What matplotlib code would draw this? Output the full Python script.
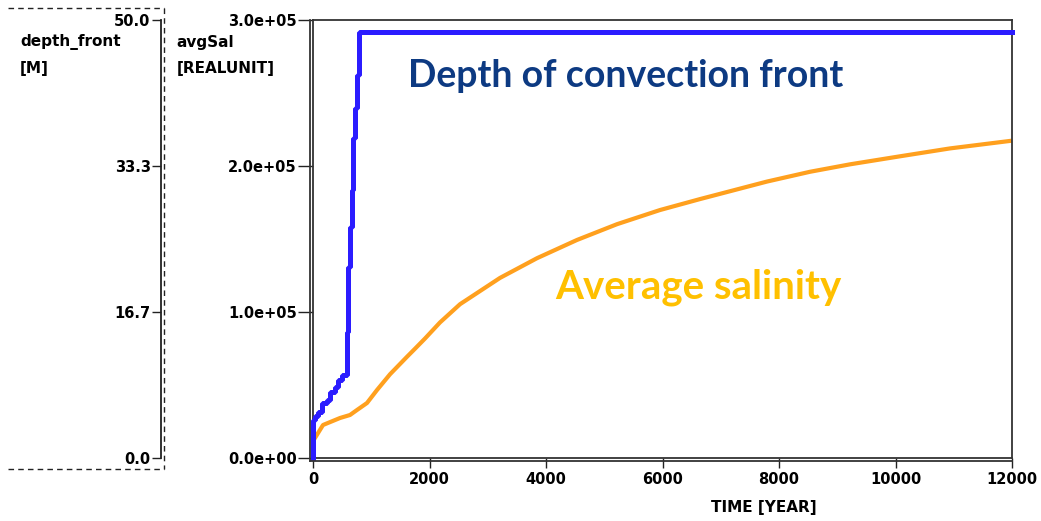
import matplotlib
matplotlib.use("Agg")
import matplotlib.pyplot as plt
from matplotlib.lines import Line2D
import numpy as np

# convection front depth [M], stepped output from the model
front_time = [0, 0, 5, 34, 91, 149, 235, 292, 378, 434, 493, 584, 609, 635,
              665, 692, 721, 760, 790, 12000]
front_depth = [0, 3.0, 4.3, 4.7, 5.2, 6.2, 6.6, 7.5, 8.1, 8.9, 9.4, 14.3, 21.7,
               26.3, 30.5, 36.5, 39.9, 43.7, 48.6, 48.6]

# average salinity [REALUNIT]
sal_time = [0, 34, 172, 463, 635, 755, 927, 1099, 1322, 1614, 1751, 1923, 2180,
            2524, 3210, 3845, 4532, 5219, 5957, 6644, 7794, 8532, 9219,
            10077, 10935, 12000]
sal_value = [11300, 13350, 22260, 27050, 29110, 32530, 37330, 46230, 57000,
             69000, 74500, 81500, 92500, 105000, 123000, 136500, 149000, 159800,
             169500, 177000, 189000, 195700, 200800, 206300, 211700, 217000]

x_ticks = [0, 2000, 4000, 6000, 8000, 10000, 12000]
sal_ticks = [0, 1e5, 2e5, 3e5]
depth_ticks = np.linspace(0, 50, 4)

W, H = 1041, 521
tick_font = dict(family="DejaVu Sans", weight="bold", size=10.5)


def fx(x):
    return x / W


def fy(y):
    return 1 - y / H


fig = plt.figure(figsize=(W / 100, H / 100), dpi=100)
ax = fig.add_axes([fx(313), fy(457.5), (1012 - 313) / W, (457.5 - 19.5) / H])

ax.plot(sal_time, sal_value, color="#ffa01e", lw=3.0, solid_capstyle="butt",
        solid_joinstyle="round", clip_on=False)
ax.set_xlim(0, 12000)
ax.set_ylim(0, 3e5)
ax.set_xticks(x_ticks)
ax.set_xticklabels([str(t) for t in x_ticks], **tick_font)
ax.set_yticks(sal_ticks)
ax.set_yticklabels(["%.1e" % v for v in sal_ticks], **tick_font)
ax.tick_params(axis="y", direction="out", length=10.8, width=1, pad=1,
               color="#222222")
ax.tick_params(axis="x", direction="out", length=7.5, width=1, pad=3,
               color="#222222")
for s in ax.spines.values():
    s.set_color("#333333")
    s.set_linewidth(1.3)

# depth axis, pushed out to the left
ax2 = ax.twinx()
ax2.plot(front_time, front_depth, color="#2b1cff", lw=3.6,
         drawstyle="steps-post", solid_joinstyle="bevel", clip_on=False)
ax2.set_ylim(0, 50)
ax2.set_xlim(0, 12000)
ax2.yaxis.set_ticks_position("left")
ax2.spines["left"].set_position(("axes", (161 - 313) / 699))
for k in ["right", "top", "bottom"]:
    ax2.spines[k].set_visible(False)
ax2.spines["left"].set_color("#222222")
ax2.spines["left"].set_linewidth(1.3)
ax2.set_yticks(depth_ticks)
ax2.set_yticklabels(["%.1f" % v for v in depth_ticks], **tick_font)
ax2.tick_params(axis="y", direction="out", length=6.5, width=1, pad=1,
                color="#222222")

# second frame line on left and bottom
fig.add_artist(Line2D([fx(310), fx(310)], [fy(19.5), fy(461)],
                      color="#333333", lw=1.3))
fig.add_artist(Line2D([fx(310), fx(1012)], [fy(461), fy(461)],
                      color="#333333", lw=1.3))

# dashed box round the depth axis
dash = dict(color="#222222", lw=1.0, linestyle=(0, (4, 3)))
fig.add_artist(Line2D([fx(8), fx(163.5)], [fy(8), fy(8)], **dash))
fig.add_artist(Line2D([fx(163.5), fx(163.5)], [fy(8), fy(469)], **dash))
fig.add_artist(Line2D([fx(8), fx(163.5)], [fy(469), fy(469)], **dash))

# axis titles
lab = dict(family="DejaVu Sans", weight="bold", size=11, va="baseline")
fig.text(fx(20), fy(46.5), "depth_front", **lab)
fig.text(fx(20), fy(73), "[M]", **lab)
fig.text(fx(176), fy(46.5), "avgSal", **lab)
fig.text(fx(177), fy(73), "[REALUNIT]", **lab)
fig.text(fx(764), fy(512), "TIME [YEAR]", ha="center", **lab)

# curve labels
ax.text((408 - 313) / 699, (457.5 - 87) / 438, "Depth of convection front",
        transform=ax.transAxes, family="Lato", weight="bold", size=27,
        color="#0d3a82", va="baseline")
ax.text((555 - 313) / 699, (457.5 - 298) / 438, "Average salinity",
        transform=ax.transAxes, family="Lato", weight="bold", size=29,
        color="#ffc000", va="baseline")

fig.savefig("out.png", dpi=100)
